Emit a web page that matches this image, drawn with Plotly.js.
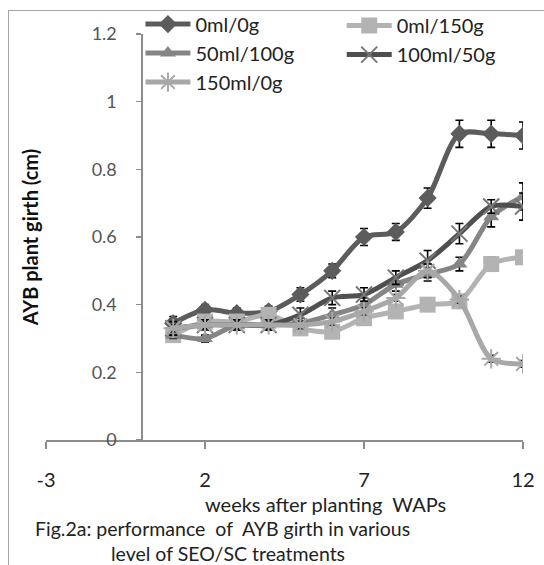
<!DOCTYPE html>
<html>
<head>
<meta charset="utf-8">
<script src="https://cdn.plot.ly/plotly-3.0.1.min.js"></script>
<style>
  html, body { margin: 0; padding: 0; background: #fff; }
  #wrap { position: relative; width: 544px; height: 565px; overflow: hidden; }
  #chart { width: 544px; height: 565px; }
  #frame { position: absolute; left: 8px; top: 10px; width: 700px; height: 700px;
           border-left: 1.5px solid #a6a6a6; border-top: 1.5px solid #a6a6a6; pointer-events: none; }
</style>
</head>
<body>
<div id="wrap">
  <div id="chart"></div>
  <div id="frame"></div>
</div>
<script>
// ---- data ----
const weeks = [1, 2, 3, 4, 5, 6, 7, 8, 9, 10, 11, 12];

const seriesNames = ["0ml/0g", "0ml/150g", "50ml/100g", "100ml/50g", "150ml/0g"];

const girth_0ml_0g    = [0.345, 0.385, 0.375, 0.38, 0.43, 0.50, 0.60, 0.615, 0.715, 0.905, 0.905, 0.90];
const girth_0ml_150g  = [0.31, 0.35, 0.35, 0.37, 0.33, 0.32, 0.36, 0.38, 0.40, 0.41, 0.52, 0.54];
const girth_50ml_100g = [0.31, 0.30, 0.34, 0.34, 0.345, 0.37, 0.40, 0.46, 0.49, 0.52, 0.66, 0.72];
const girth_100ml_50g = [0.33, 0.34, 0.34, 0.34, 0.37, 0.42, 0.43, 0.48, 0.53, 0.61, 0.69, 0.69];
const girth_150ml_0g  = [0.33, 0.34, 0.34, 0.34, 0.34, 0.35, 0.38, 0.42, 0.50, 0.415, 0.24, 0.225];

const err_0ml_0g    = [0.02, 0.015, 0.015, 0.015, 0.02, 0.02, 0.025, 0.025, 0.03, 0.04, 0.04, 0.04];
const err_0ml_150g  = [0.01, 0.01, 0.01, 0.01, 0.01, 0.01, 0.01, 0.01, 0.01, 0.015, 0.02, 0.01];
const err_50ml_100g = [0.01, 0.01, 0.015, 0.015, 0.015, 0.02, 0.02, 0.02, 0.02, 0.02, 0.03, 0.04];
const err_100ml_50g = [0.02, 0.015, 0.015, 0.015, 0.02, 0.02, 0.02, 0.02, 0.03, 0.03, 0.02, 0.04];
const err_150ml_0g  = [0.01, 0.01, 0.01, 0.01, 0.01, 0.01, 0.01, 0.01, 0.02, 0.01, 0.01, 0.01];

const xTicks = [-3, 2, 7, 12];

// ---- styles ----
const FONT = "Lato, 'Open Sans', sans-serif";
const errStyle = (arr) => ({ type: "data", array: arr, visible: true, color: "#000", thickness: 1.6, width: 4 });

const traces = [
  { name: seriesNames[0], y: girth_0ml_0g, err: err_0ml_0g, color: "#5c5c5c",
    marker: { symbol: "diamond", size: 14, color: "#5c5c5c" }, legend: "legend" },
  { name: seriesNames[1], y: girth_0ml_150g, err: err_0ml_150g, color: "#b3b3b3",
    marker: { symbol: "square", size: 16, color: "#b3b3b3" }, legend: "legend2" },
  { name: seriesNames[2], y: girth_50ml_100g, err: err_50ml_100g, color: "#858585",
    marker: { symbol: "triangle-up", size: 14, color: "#858585" }, legend: "legend" },
  { name: seriesNames[3], y: girth_100ml_50g, err: err_100ml_50g, color: "#4f4f4f",
    marker: { symbol: "x-thin-open", size: 16, color: "#777777", line: { width: 2, color: "#777777" } }, legend: "legend2" },
  { name: seriesNames[4], y: girth_150ml_0g, err: err_150ml_0g, color: "#a8a8a8",
    marker: { symbol: "asterisk-open", size: 16, color: "#a8a8a8", line: { width: 2, color: "#a8a8a8" } }, legend: "legend" }
].map((t, i) => ({
  type: "scatter",
  mode: "lines+markers",
  x: weeks,
  y: t.y,
  name: t.name,
  legend: t.legend,
  line: { color: t.color, width: 5, shape: "spline", smoothing: 0.8 },
  marker: t.marker,
  error_y: errStyle(t.err)
}));

const layout = {
  width: 544,
  height: 565,
  margin: { l: 46, r: 21, t: 34, b: 125, autoexpand: false },
  paper_bgcolor: "#fff",
  plot_bgcolor: "rgba(0,0,0,0)",
  font: { family: FONT, color: "#444" },
  showlegend: true,
  xaxis: {
    range: [-3, 12],
    tickvals: xTicks,
    ticktext: xTicks.map(String),
    showline: true, linecolor: "#8c8c8c", linewidth: 1.5,
    ticks: "outside", ticklen: 7, tickcolor: "#8c8c8c", tickwidth: 1.5,
    ticklabelstandoff: 14,
    showgrid: false, zeroline: false,
    tickfont: { size: 20, color: "#222", family: FONT },
    automargin: false
  },
  yaxis: {
    range: [0, 1.2],
    dtick: 0.2,
    anchor: "free",
    position: 0.2,
    showline: true, linecolor: "#8c8c8c", linewidth: 1.5,
    ticks: "outside", ticklen: 5, tickcolor: "#8c8c8c", tickwidth: 1.5,
    ticklabelstandoff: 16,
    showgrid: false, zeroline: false,
    tickfont: { size: 18, color: "#555", family: FONT },
    title: { text: "<b>AYB plant girth (cm)</b>", font: { size: 20, color: "#111", family: FONT, weight: "bold" }, standoff: 46 },
    automargin: false
  },
  legend: {
    x: 0.198, y: 0.953, xanchor: "left", yanchor: "middle",
    orientation: "v", bgcolor: "rgba(0,0,0,0)",
    font: { size: 20, color: "#222", family: FONT },
    itemwidth: 45, tracegroupgap: 0
  },
  legend2: {
    x: 0.62, y: 0.985, xanchor: "left", yanchor: "middle",
    orientation: "v", bgcolor: "rgba(0,0,0,0)",
    font: { size: 20, color: "#222", family: FONT },
    itemwidth: 45, tracegroupgap: 0
  },
  annotations: [
    { text: "weeks after planting  WAPs", xref: "paper", yref: "paper", x: 0.585, y: -0.157,
      showarrow: false, xanchor: "center", yanchor: "middle",
      font: { size: 20, color: "#222", family: FONT } },
    { text: "Fig.2a: performance  of  AYB girth in various", xref: "paper", yref: "paper", x: 0.371, y: -0.219,
      showarrow: false, xanchor: "center", yanchor: "middle",
      font: { size: 19.5, color: "#222", family: FONT } },
    { text: "level of SEO/SC treatments", xref: "paper", yref: "paper", x: 0.382, y: -0.279,
      showarrow: false, xanchor: "center", yanchor: "middle",
      font: { size: 19.5, color: "#222", family: FONT } }
  ]
};

Plotly.newPlot("chart", traces, layout, { staticPlot: true, displayModeBar: false });
</script>
</body>
</html>
